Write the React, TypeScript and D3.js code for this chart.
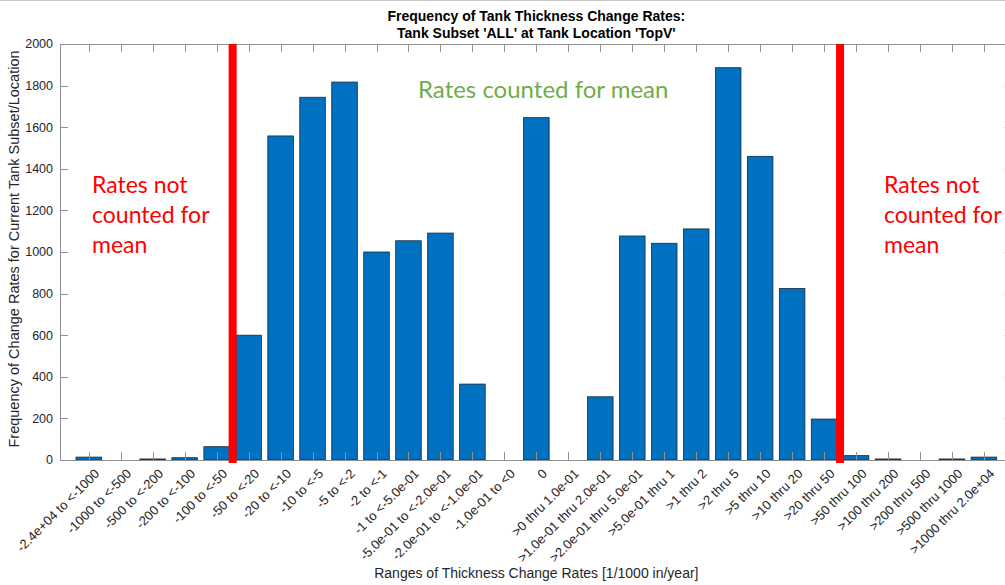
import React, { useRef, useEffect } from 'react';
import * as d3 from 'd3';

// bin labels along the x axis
const categories = [
  '-2.4e+04 to <-1000', '-1000 to <-500', '-500 to <-200', '-200 to <-100', '-100 to <-50',
  '-50 to <-20', '-20 to <-10', '-10 to <-5', '-5 to <-2', '-2 to <-1',
  '-1 to <-5.0e-01', '-5.0e-01 to <-2.0e-01', '-2.0e-01 to <-1.0e-01', '-1.0e-01 to <0', '0',
  '>0 thru 1.0e-01', '>1.0e-01 thru 2.0e-01', '>2.0e-01 thru 5.0e-01', '>5.0e-01 thru 1', '>1 thru 2',
  '>2 thru 5', '>5 thru 10', '>10 thru 20', '>20 thru 50', '>50 thru 100',
  '>100 thru 200', '>200 thru 500', '>500 thru 1000', '>1000 thru 2.0e+04'
];

// counts per bin
const counts = [
  14, 0, 5, 11, 64,
  600, 1558, 1744, 1817, 1000,
  1054, 1091, 365, 0, 1646,
  0, 304, 1077, 1042, 1111,
  1886, 1460, 825, 197, 21,
  5, 0, 5, 14
];

const yTicks = [0, 200, 400, 600, 800, 1000, 1200, 1400, 1600, 1800, 2000];

// boundaries (in bin index units) of the range counted for the mean
const cutoffs = [5.5, 24.5];

const titleLines = ["Frequency of Tank Thickness Change Rates:", "Tank Subset 'ALL' at Tank Location 'TopV'"];
const notCountedLines = ['Rates not', 'counted for', 'mean'];

export default function App() {
  const ref = useRef<SVGSVGElement>(null);

  useEffect(() => {
    const width = 1005, height = 585;
    const left = 60, top = 44, bottom = 460;
    const step = 31.97;

    const svg = d3.select(ref.current);
    svg.selectAll('*').remove();

    const x = d3.scaleLinear().domain([0.1, 29.9]).range([left, left + 29.8 * step]);
    const y = d3.scaleLinear().domain([0, 2000]).range([bottom, top]);
    const right = x(29.9);
    const axisColor = '#8f8f8f';
    const textColor = '#262626';
    const font = 'Liberation Sans, Arial, sans-serif';

    // frame line of the picture
    svg.append('line').attr('x1', 0).attr('x2', width).attr('y1', 0.5).attr('y2', 0.5)
      .attr('stroke', '#c8c8c8');

    // bars
    const bw = step * 0.8;
    svg.append('g').selectAll('rect')
      .data(counts)
      .enter().append('rect')
      .attr('x', (d, i) => x(i + 1) - bw / 2)
      .attr('y', d => y(d))
      .attr('width', bw)
      .attr('height', d => bottom - y(d))
      .attr('fill', '#0070C0')
      .attr('stroke', '#1a2a3a')
      .attr('stroke-width', 0.8);

    // axes box lines
    const ax = svg.append('g').attr('stroke', axisColor).attr('stroke-width', 1).attr('fill', 'none');
    ax.append('line').attr('x1', left).attr('x2', right).attr('y1', bottom + 0.5).attr('y2', bottom + 0.5);
    ax.append('line').attr('x1', left).attr('x2', right).attr('y1', top + 0.5).attr('y2', top + 0.5);
    ax.append('line').attr('x1', left + 0.5).attr('x2', left + 0.5).attr('y1', top).attr('y2', bottom);
    ax.append('line').attr('x1', right + 0.5).attr('x2', right + 0.5).attr('y1', top).attr('y2', bottom);

    // x ticks (inside, top and bottom)
    categories.forEach((c, i) => {
      const xx = Math.round(x(i + 1)) + 0.5;
      ax.append('line').attr('x1', xx).attr('x2', xx).attr('y1', bottom).attr('y2', bottom - 8);
      ax.append('line').attr('x1', xx).attr('x2', xx).attr('y1', top).attr('y2', top + 8);
    });
    // y ticks
    yTicks.forEach(t => {
      const yy = Math.round(y(t)) + 0.5;
      ax.append('line').attr('x1', left).attr('x2', left + 8).attr('y1', yy).attr('y2', yy);
      ax.append('line').attr('x1', right).attr('x2', right - 8).attr('y1', yy).attr('y2', yy);
    });

    // y tick labels
    svg.append('g').selectAll('text')
      .data(yTicks)
      .enter().append('text')
      .attr('x', left - 7)
      .attr('y', d => y(d))
      .attr('dy', '0.35em')
      .attr('text-anchor', 'end')
      .attr('font-family', font)
      .attr('font-size', 12.5)
      .attr('fill', textColor)
      .text(d => d);

    // x tick labels, rotated 45 degrees
    svg.append('g').selectAll('text')
      .data(categories)
      .enter().append('text')
      .attr('transform', (d, i) => `translate(${x(i + 1) + 5},${bottom + 8}) rotate(-45)`)
      .attr('dy', '0.7em')
      .attr('text-anchor', 'end')
      .attr('font-family', font)
      .attr('font-size', 13)
      .attr('fill', textColor)
      .text(d => d);

    // red cutoff lines
    svg.append('g').selectAll('rect')
      .data(cutoffs)
      .enter().append('rect')
      .attr('x', d => x(d) - 4)
      .attr('y', top)
      .attr('width', 8)
      .attr('height', bottom - top + 3)
      .attr('fill', '#ff0000');

    // title
    svg.append('text')
      .attr('x', (left + right) / 2)
      .attr('y', 21)
      .attr('text-anchor', 'middle')
      .attr('font-family', font)
      .attr('font-weight', 'bold')
      .attr('font-size', 14)
      .attr('fill', '#000')
      .selectAll('tspan')
      .data(titleLines)
      .enter().append('tspan')
      .attr('x', (left + right) / 2)
      .attr('dy', (d, i) => (i === 0 ? 0 : 16.5))
      .text(d => d);

    // axis labels
    svg.append('text')
      .attr('x', (left + right) / 2)
      .attr('y', 578)
      .attr('text-anchor', 'middle')
      .attr('font-family', font)
      .attr('font-size', 14)
      .attr('fill', textColor)
      .text('Ranges of Thickness Change Rates [1/1000 in/year]');

    svg.append('text')
      .attr('transform', `translate(19,${(top + bottom) / 2 - 3}) rotate(-90)`)
      .attr('text-anchor', 'middle')
      .attr('font-family', font)
      .attr('font-size', 14.5)
      .attr('fill', textColor)
      .text('Frequency of Change Rates for Current Tank Subset/Location');

    // annotations
    const noteFont = 'Lato, "Open Sans", sans-serif';
    [92, 884].forEach(nx => {
      const t = svg.append('text')
        .attr('font-family', noteFont)
        .attr('font-size', 23)
        .attr('fill', '#ff0000');
      notCountedLines.forEach((line, i) => {
        t.append('tspan').attr('x', nx).attr('y', 193 + i * 30).text(line);
      });
    });

    svg.append('text')
      .attr('x', 418)
      .attr('y', 98)
      .attr('font-family', noteFont)
      .attr('font-size', 24)
      .attr('fill', '#70AD47')
      .text('Rates counted for mean');
  }, []);

  return (
    <svg ref={ref} width={1005} height={585}
      style={{ position: 'absolute', left: 0, top: 0, background: '#fff' }} />
  );
}
